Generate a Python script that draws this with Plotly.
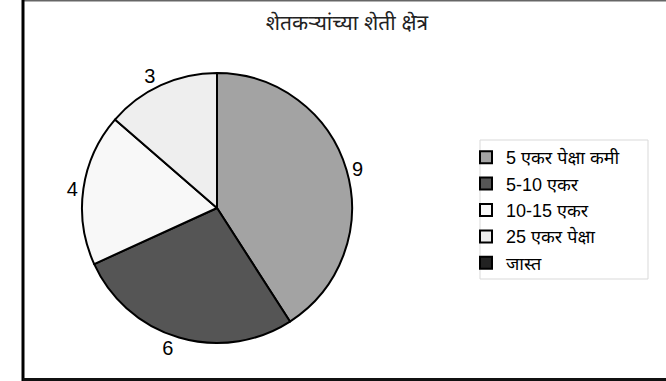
import plotly.graph_objects as go

title_text = "शेतकऱ्यांच्या शेती क्षेत्र"
labels = ["5 एकर पेक्षा कमी", "5-10 एकर", "10-15 एकर", "25 एकर पेक्षा", "जास्त"]
values = [9, 6, 4, 3, 0]
colors = ["#a3a3a3", "#555555", "#f8f8f8", "#eeeeee", "#222222"]

W, H = 666, 381
FONT = "Liberation Sans, Arial, Noto Sans, sans-serif"

cx, cy, r = 217, 208, 135

fig = go.Figure(go.Pie(
    labels=labels,
    values=values,
    text=[str(v) if v else "" for v in values],
    textinfo="text",
    textposition="outside",
    sort=False,
    direction="clockwise",
    rotation=0,
    marker=dict(colors=colors, line=dict(color="#000000", width=2)),
    outsidetextfont=dict(family=FONT, size=20, color="#000000"),
    domain=dict(x=[(cx - r) / W, (cx + r) / W], y=[(H - cy - r) / H, (H - cy + r) / H]),
    hoverinfo="label+value",
))

fig.update_layout(
    width=W, height=H,
    margin=dict(l=0, r=0, t=0, b=0),
    paper_bgcolor="white",
    plot_bgcolor="white",
    font=dict(family=FONT, color="#000000"),
    title=dict(text=title_text, x=347 / W, xanchor="center", y=1 - 23 / H, yanchor="middle",
               font=dict(family=FONT, size=21, color="#222222")),
    legend=dict(x=466 / W, xanchor="left", y=1 - 139 / H, yanchor="top",
                font=dict(family=FONT, size=18, color="#000000"),
                bgcolor="rgba(0,0,0,0)", borderwidth=0, tracegroupgap=0),
    shapes=[
        dict(type="line", xref="paper", yref="paper", x0=23 / W, x1=1.01, y0=1 - 0.5 / H, y1=1 - 0.5 / H,
             line=dict(color="#666666", width=2)),
        dict(type="line", xref="paper", yref="paper", x0=23 / W, x1=23 / W, y0=0, y1=1,
             line=dict(color="#000000", width=3)),
        dict(type="line", xref="paper", yref="paper", x0=23 / W, x1=1.01, y0=1.5 / H, y1=1.5 / H,
             line=dict(color="#111111", width=3)),
        dict(type="rect", xref="paper", yref="paper", x0=480 / W, x1=648 / W, y0=1 - 279 / H, y1=1 - 140 / H,
             line=dict(color="#d9d9d9", width=1)),
    ],
)

fig.write_html("out.html")
